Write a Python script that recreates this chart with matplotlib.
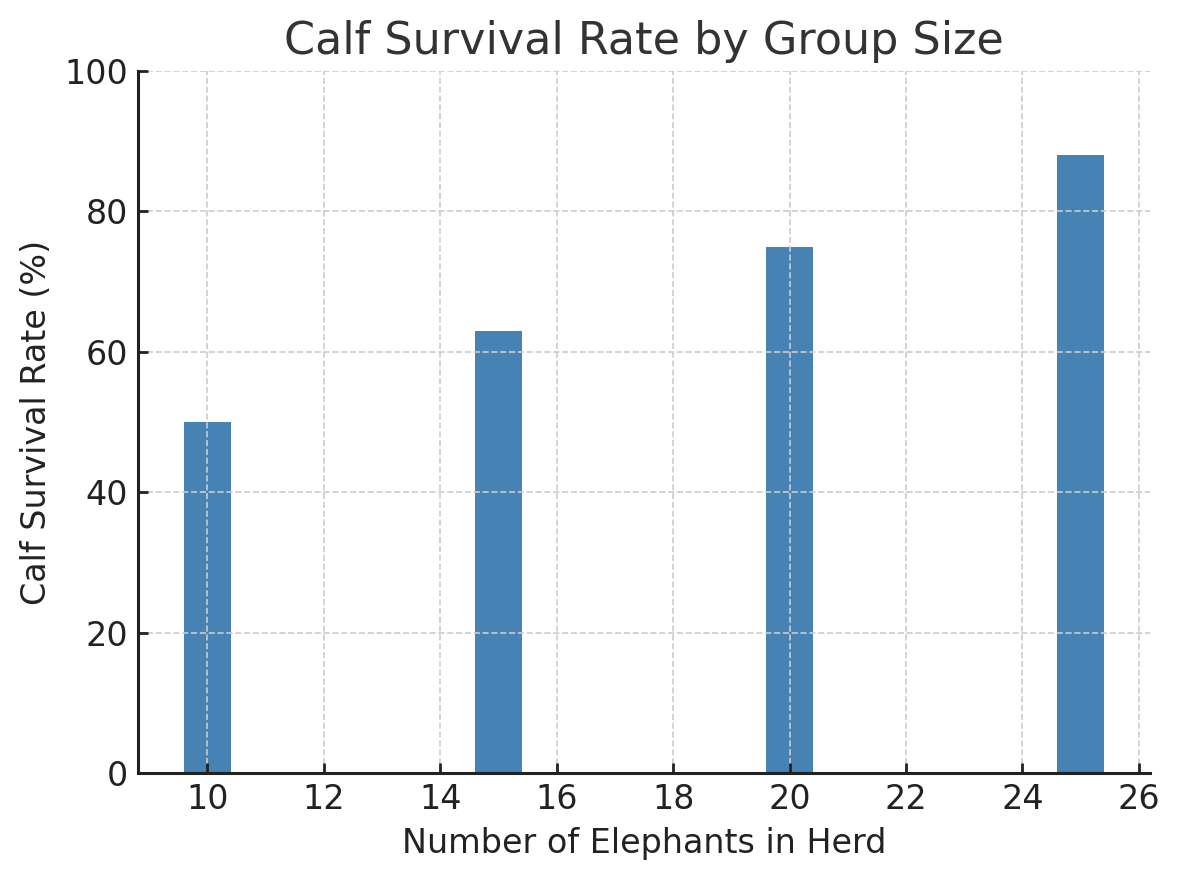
import matplotlib
matplotlib.use('Agg')
import matplotlib.pyplot as plt

herd_size = [10, 15, 20, 25]
survival = [50, 63, 75, 88]

fig = plt.figure(figsize=(5.895, 4.4), dpi=200)
ax = fig.add_axes([0.117, 0.1216, 0.8584, 0.7977])

ax.bar(herd_size, survival, width=0.8, color='#4682B4', zorder=1)
ax.set_axisbelow(False)
ax.grid(True, linestyle='--', color='#cccccc', linewidth=0.6)

ax.set_ylim(0, 100)
ax.set_xticks(range(10, 27, 2))
ax.tick_params(direction='in', labelsize=12, colors='#222222', length=3.5, width=1)
for s in ['top', 'right']:
    ax.spines[s].set_visible(False)
for s in ['left', 'bottom']:
    ax.spines[s].set_color('#222222')
    ax.spines[s].set_linewidth(1.1)
    ax.spines[s].set_zorder(4)

ax.set_title('Calf Survival Rate by Group Size', fontsize=16, color='#333333')
ax.set_xlabel('Number of Elephants in Herd', fontsize=12, color='#222222')
ax.set_ylabel('Calf Survival Rate (%)', fontsize=12, color='#222222')

fig.savefig('out.png', dpi=200)
